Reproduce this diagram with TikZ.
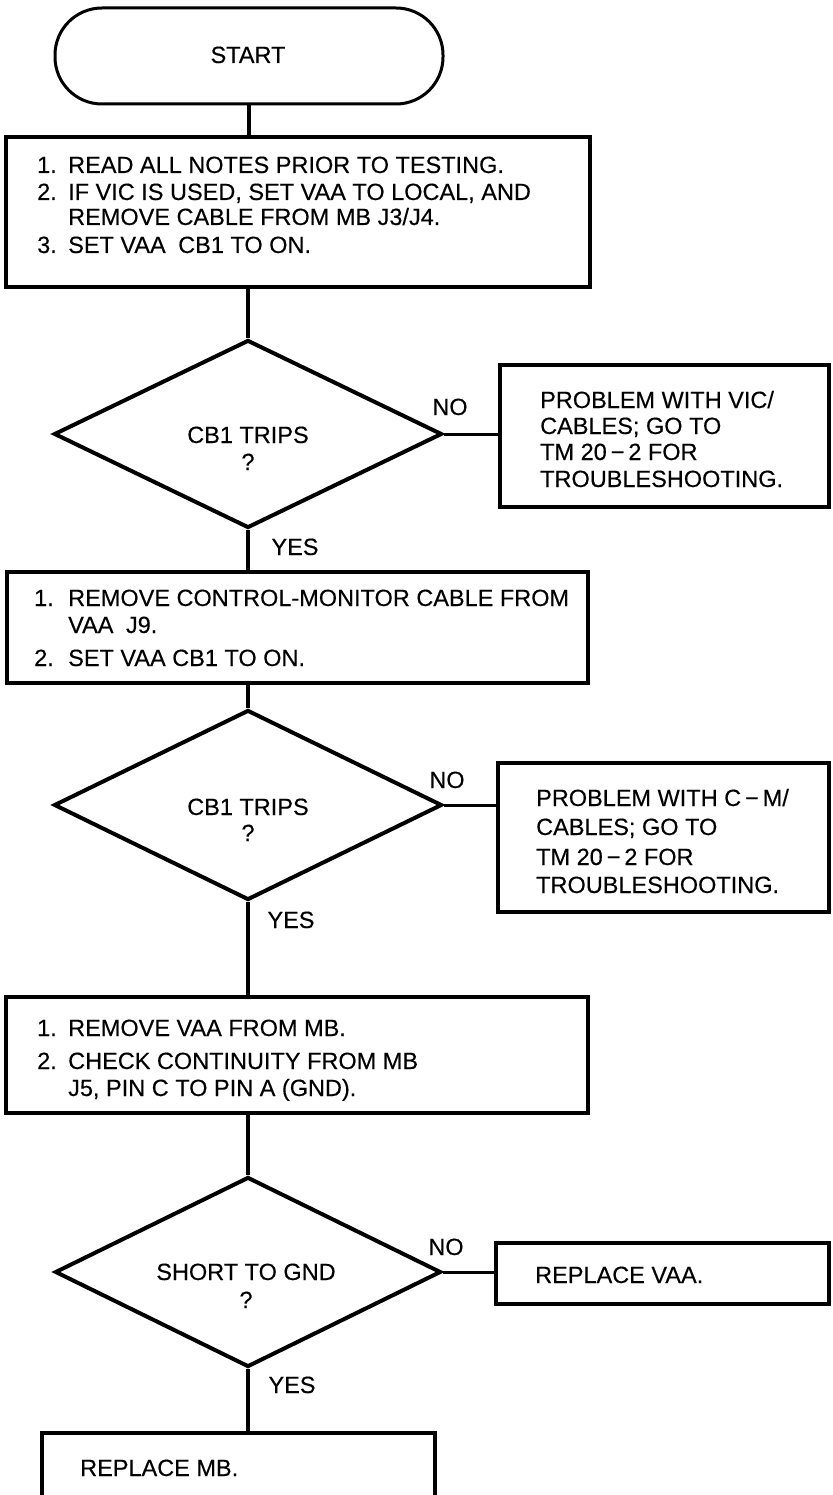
\documentclass[tikz,border=0pt]{standalone}
\usepackage{fontspec}
\setmainfont{Liberation Sans}
\newfontfamily\diagfont{Liberation Sans}[FakeBold=0.3,Ligatures=TeX]
\usetikzlibrary{shapes.geometric}
\tikzset{
  box/.style={draw, rectangle, line width=4pt, inner sep=0pt},
  dia/.style={draw, diamond, line width=4pt, inner sep=0pt},
  termbox/.style={draw, rectangle, line width=3pt, rounded corners=47pt, inner sep=0pt},
  txt/.style={inner sep=0pt, font=\diagfont\fontsize{23.5}{27}\selectfont},
  lt/.style={txt, anchor=base west},
  ct/.style={txt, anchor=base},
  conn/.style={line width=4.5pt},
  hconn/.style={line width=3pt},
}
\begin{document}
\begin{tikzpicture}[x=1pt,y=-1pt]
\useasboundingbox (0,0) rectangle (832,1495);
\clip (0,0) rectangle (832,1495);

% terminal
\node[termbox, minimum width=388pt, minimum height=96pt] (start) at (249,56) {};
\node[ct] (starttxt) at (248,63) {START};

% box 1
\node[box, minimum width=584pt, minimum height=150pt] (box1) at (298,212) {};
\node[lt] (b1n1) at (37,173) {1.};
\node[lt] (b1t1) at (68,173) {READ ALL NOTES PRIOR TO TESTING.};
\node[lt] (b1n2) at (37,200) {2.};
\node[lt] (b1t2) at (68,200) {IF VIC IS USED, SET VAA TO LOCAL, AND};
\node[lt] (b1t2b) at (68,225) {REMOVE CABLE FROM MB J3/J4.};
\node[lt] (b1n3) at (37,253) {3.};
\node[lt] (b1t3) at (68,253) {SET VAA\hspace{6pt} CB1 TO ON.};

% diamond 1
\node[dia, minimum width=388pt, minimum height=188pt] (d1) at (248,434) {};
\node[ct] (d1t1) at (248,443) {CB1 TRIPS};
\node[ct] (d1t2) at (248,470) {?};

% right box 1
\node[box, minimum width=329pt, minimum height=142pt] (rb1) at (664.5,436) {};
\node[lt] (rb1t1) at (540,408) {PROBLEM WITH VIC/};
\node[lt] (rb1t2) at (540,434) {CABLES; GO TO};
\node[lt] (rb1t3) at (540,460) {TM 20\,−\,2 FOR};
\node[lt] (rb1t4) at (540,487) {TROUBLESHOOTING.};

\node[ct] (no1) at (450,415) {NO};
\node[ct] (yes1) at (295,555) {YES};

% box 2
\node[box, minimum width=581pt, minimum height=111pt] (box2) at (297.5,627.5) {};
\node[lt] (b2n1) at (34,606) {1.};
\node[lt] (b2t1) at (68,606) {REMOVE CONTROL-MONITOR CABLE FROM};
\node[lt] (b2t1b) at (68,633) {VAA\hspace{6pt} J9.};
\node[lt] (b2n2) at (34,666) {2.};
\node[lt] (b2t2) at (68,666) {SET VAA CB1 TO ON.};

% diamond 2
\node[dia, minimum width=388pt, minimum height=190pt] (d2) at (248,805) {};
\node[ct] (d2t1) at (248,815) {CB1 TRIPS};
\node[ct] (d2t2) at (248,841) {?};

% right box 2
\node[box, minimum width=331pt, minimum height=149pt] (rb2) at (663.5,837.5) {};
\node[lt] (rb2t1) at (536,806) {PROBLEM WITH C\,−\,M/};
\node[lt] (rb2t2) at (536,835) {CABLES; GO TO};
\node[lt] (rb2t3) at (536,865) {TM 20\,−\,2 FOR};
\node[lt] (rb2t4) at (536,893) {TROUBLESHOOTING.};

\node[ct] (no2) at (447,788) {NO};
\node[ct] (yes2) at (291,928) {YES};

% box 3
\node[box, minimum width=582pt, minimum height=116pt] (box3) at (297,1055) {};
\node[lt] (b3n1) at (37,1036) {1.};
\node[lt] (b3t1) at (68,1036) {REMOVE VAA FROM MB.};
\node[lt] (b3n2) at (37,1069) {2.};
\node[lt] (b3t2) at (68,1069) {CHECK CONTINUITY FROM MB};
\node[lt] (b3t2b) at (68,1096) {J5, PIN C TO PIN A (GND).};

% diamond 3
\node[dia, minimum width=386pt, minimum height=190pt] (d3) at (248,1272) {};
\node[ct] (d3t1) at (246,1280) {SHORT TO GND};
\node[ct] (d3t2) at (246,1308) {?};

% right box 3
\node[box, minimum width=333pt, minimum height=61pt] (rb3) at (662.5,1273.5) {};
\node[lt] (rb3t1) at (535,1283) {REPLACE VAA.};

\node[ct] (no3) at (446,1255) {NO};
\node[ct] (yes3) at (292,1393) {YES};

% box 4 (cut off at bottom)
\node[box, minimum width=393pt, minimum height=120pt] (box4) at (238.5,1493) {};
\node[lt] (b4t1) at (80,1476) {REPLACE MB.};

% connectors
\draw[conn] (start.south) -- (start.south |- box1.north);
\draw[conn] (d1.north |- box1.south) -- (d1.north);
\draw[conn] (d1.south) -- (d1.south |- box2.north);
\draw[hconn] (d1.east) -- (d1.east -| rb1.west);
\draw[conn] (d2.north |- box2.south) -- (d2.north);
\draw[hconn] (d2.east) -- (d2.east -| rb2.west);
\draw[conn] (d2.south) -- (d2.south |- box3.north);
\draw[conn] (d3.north |- box3.south) -- (d3.north);
\draw[hconn] (d3.east) -- (d3.east -| rb3.west);
\draw[conn] (d3.south) -- (d3.south |- box4.north);
\end{tikzpicture}
\end{document}
